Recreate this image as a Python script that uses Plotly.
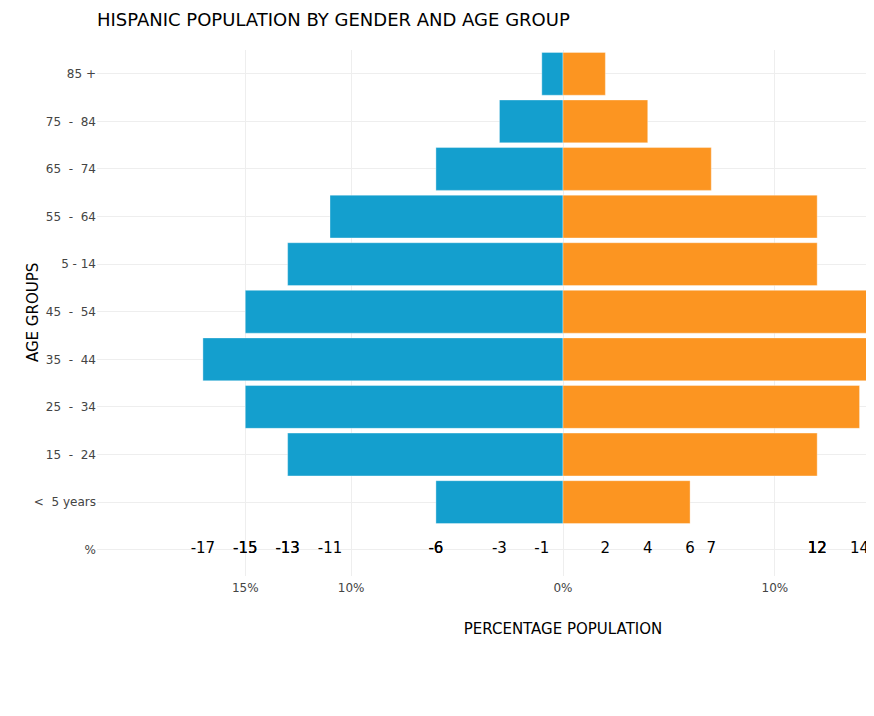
import plotly.graph_objects as go

age_groups = ["<  5 years", "15  -  24", "25  -  34", "35  -  44", "45  -  54",
              "5 - 14", "55  -  64", "65  -  74", "75  -  84", "85 +"]
male = [-6, -13, -15, -17, -15, -13, -11, -6, -3, -1]
female = [6, 12, 14, 15, 15, 12, 12, 7, 4, 2]

x_tickvals = [-15, -10, 0, 10, 15]
x_ticktext = ["15%", "10%", "0%", "10%", "15%"]

font_family = "Verdana, DejaVu Sans, sans-serif"

W, H = 1100, 680
L, T, R = 89, 42, 79
plot_w = W - L - R
B = H - T - 526

fig = go.Figure()
fig.add_trace(go.Bar(
    y=age_groups, x=male, orientation="h", name="Male",
    marker=dict(color="#149fce", line=dict(color="rgba(255,255,255,0.35)", width=1)),
))
fig.add_trace(go.Bar(
    y=age_groups, x=female, orientation="h", name="Female",
    marker=dict(color="#fc9521", line=dict(color="rgba(255,255,255,0.35)", width=1)),
))
labels = male + female
fig.add_trace(go.Scatter(
    x=labels, y=["%"] * len(labels), mode="text",
    text=[str(v) for v in labels],
    textfont=dict(size=15, color="#000000", family=font_family),
    showlegend=False, hoverinfo="skip", cliponaxis=False,
))

fig.update_layout(
    width=W, height=H,
    margin=dict(l=L, r=R, t=T, b=B),
    barmode="relative", bargap=0.1,
    showlegend=False,
    plot_bgcolor="white", paper_bgcolor="white",
    font=dict(family=font_family, size=12, color="#444"),
    title=dict(text="HISPANIC POPULATION BY GENDER AND AGE GROUP",
               x=0, xref="paper", xanchor="left",
               y=1 - 12 / H, yref="container", yanchor="middle",
               font=dict(size=18, color="#000000", family=font_family)),
    xaxis=dict(range=[-22, 22], tickvals=x_tickvals, ticktext=x_ticktext,
               showgrid=True, gridcolor="#eeeeee", zeroline=False,
               ticks="outside", ticklen=1, tickcolor="rgba(0,0,0,0)",
               title=dict(text="PERCENTAGE POPULATION", standoff=29,
                          font=dict(size=15, color="#000000"))),
    yaxis=dict(categoryorder="array", categoryarray=["%"] + age_groups,
               showgrid=True, gridcolor="#eeeeee", zeroline=False),
    annotations=[dict(text="AGE GROUPS", textangle=-90,
                      xref="paper", yref="paper", x=(25 - L) / plot_w, y=0.5,
                      xanchor="center", yanchor="middle", showarrow=False,
                      font=dict(size=15, color="#000000", family=font_family))],
)

fig.write_html("out.html")
